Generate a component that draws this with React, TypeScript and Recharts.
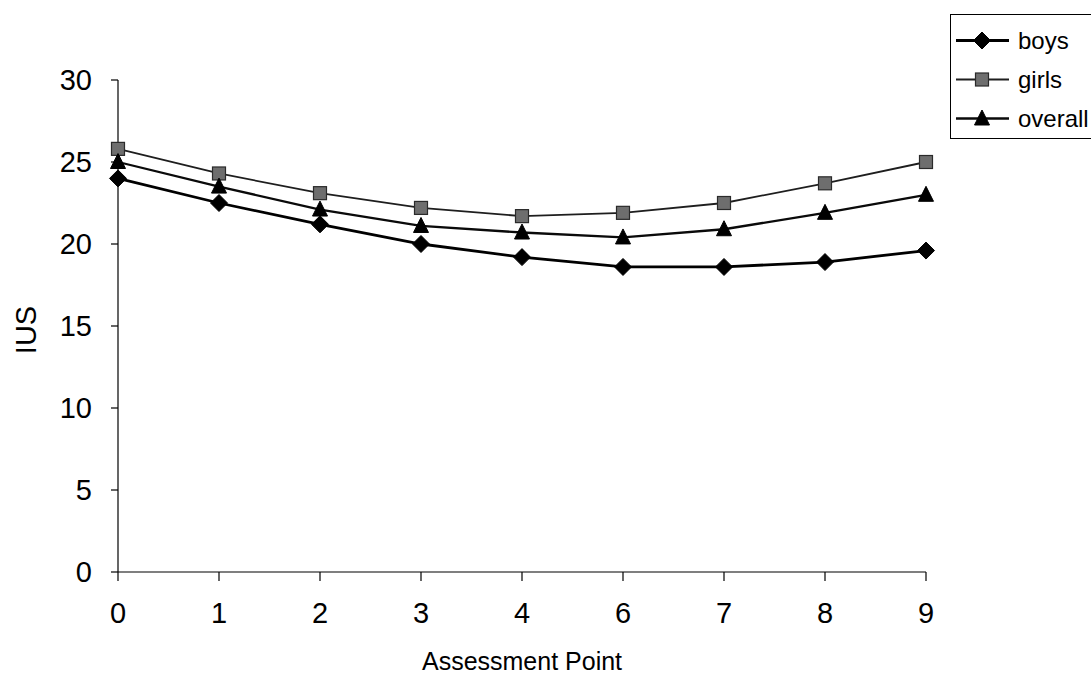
import React from 'react';
import { LineChart, Line, XAxis, YAxis, Label } from 'recharts';

const categories = ['0', '1', '2', '3', '4', '6', '7', '8', '9'];
const boys = [24.0, 22.5, 21.2, 20.0, 19.2, 18.6, 18.6, 18.9, 19.6];
const girls = [25.8, 24.3, 23.1, 22.2, 21.7, 21.9, 22.5, 23.7, 25.0];
const overall = [25.0, 23.5, 22.1, 21.1, 20.7, 20.4, 20.9, 21.9, 23.0];
const yTicks = [0, 5, 10, 15, 20, 25, 30];

const data = categories.map((c, i) => ({ label: c, boys: boys[i], girls: girls[i], overall: overall[i] }));

const FONT = '"Liberation Sans", Arial, sans-serif';

type Shape = 'diamond' | 'square' | 'triangle';

function Marker({ cx, cy, shape }: { cx: number; cy: number; shape: Shape }) {
  if (shape === 'diamond') {
    const r = 8.5;
    return <path d={`M${cx},${cy - r}L${cx + r},${cy}L${cx},${cy + r}L${cx - r},${cy}Z`} fill="#000" stroke="#000" strokeWidth={1} />;
  }
  if (shape === 'square') {
    const h = 6.5;
    return <rect x={cx - h} y={cy - h} width={2 * h} height={2 * h} fill="#6e6e6e" stroke="#2a2a2a" strokeWidth={1.2} />;
  }
  const w = 7.5;
  return <path d={`M${cx},${cy - 8.5}L${cx + w},${cy + 6.5}L${cx - w},${cy + 6.5}Z`} fill="#000" stroke="#000" strokeWidth={1} />;
}

const makeDot = (shape: Shape) => (props: any) => {
  const { cx, cy, index } = props;
  if (cx == null || cy == null) return <g key={`${shape}-${index}`} />;
  return (
    <g key={`${shape}-${index}`}>
      <Marker cx={cx} cy={cy} shape={shape} />
    </g>
  );
};

const series: { key: string; name: string; shape: Shape; color: string; width: number }[] = [
  { key: 'boys', name: 'boys', shape: 'diamond', color: '#000', width: 2.8 },
  { key: 'girls', name: 'girls', shape: 'square', color: '#1e1e1e', width: 1.8 },
  { key: 'overall', name: 'overall', shape: 'triangle', color: '#0a0a0a', width: 2.3 },
];

function LegendBox() {
  return (
    <div
      style={{
        position: 'absolute',
        left: 950,
        top: 14,
        width: 150,
        height: 125,
        border: '1px solid #000',
        background: '#fff',
        boxSizing: 'border-box',
        paddingTop: 6,
        fontFamily: FONT,
        fontSize: 24,
        color: '#000',
      }}
    >
      {series.map((s) => (
        <div key={s.key} style={{ display: 'flex', alignItems: 'center', height: 39 }}>
          <svg width={64} height={39} style={{ flex: 'none' }}>
            <line x1={5} y1={19.5} x2={58} y2={19.5} stroke={s.color} strokeWidth={s.width} />
            <Marker cx={31} cy={19.5} shape={s.shape} />
          </svg>
          <span style={{ marginLeft: 3, lineHeight: '39px' }}>{s.name}</span>
        </div>
      ))}
    </div>
  );
}

export default function App() {
  return (
    <div style={{ position: 'absolute', left: 0, top: 0, width: 1091, height: 681, overflow: 'hidden', background: '#fff' }}>
      <LineChart width={1091} height={681} data={data} margin={{ top: 80, right: 165, left: 0, bottom: 0 }}>
        <XAxis
          dataKey="label"
          type="category"
          scale="point"
          interval={0}
          height={109}
          axisLine={{ stroke: '#000', strokeWidth: 1.2 }}
          tickLine={{ stroke: '#000', strokeWidth: 1.2 }}
          tickSize={9}
          tickMargin={21}
          tick={{ fill: '#000', fontSize: 29, fontFamily: FONT }}
        >
          <Label value="Assessment Point" position="insideBottom" offset={11} fill="#000" fontSize={25} fontFamily={FONT} />
        </XAxis>
        <YAxis
          domain={[0, 30]}
          ticks={yTicks}
          width={118}
          allowDataOverflow
          axisLine={{ stroke: '#000', strokeWidth: 1.2 }}
          tickLine={{ stroke: '#000', strokeWidth: 1.2 }}
          tickSize={7}
          tickMargin={19}
          tick={{ fill: '#000', fontSize: 29, fontFamily: FONT }}
        >
          <Label
            content={() => (
              <text x={36} y={330} transform="rotate(-90, 36, 330)" textAnchor="middle" fill="#000" fontSize={29} fontFamily={FONT}>
                IUS
              </text>
            )}
          />
        </YAxis>
        {series.map((s) => (
          <Line
            key={s.key}
            dataKey={s.key}
            name={s.name}
            type="linear"
            stroke={s.color}
            strokeWidth={s.width}
            dot={makeDot(s.shape)}
            activeDot={false}
            isAnimationActive={false}
          />
        ))}
      </LineChart>
      <LegendBox />
    </div>
  );
}
